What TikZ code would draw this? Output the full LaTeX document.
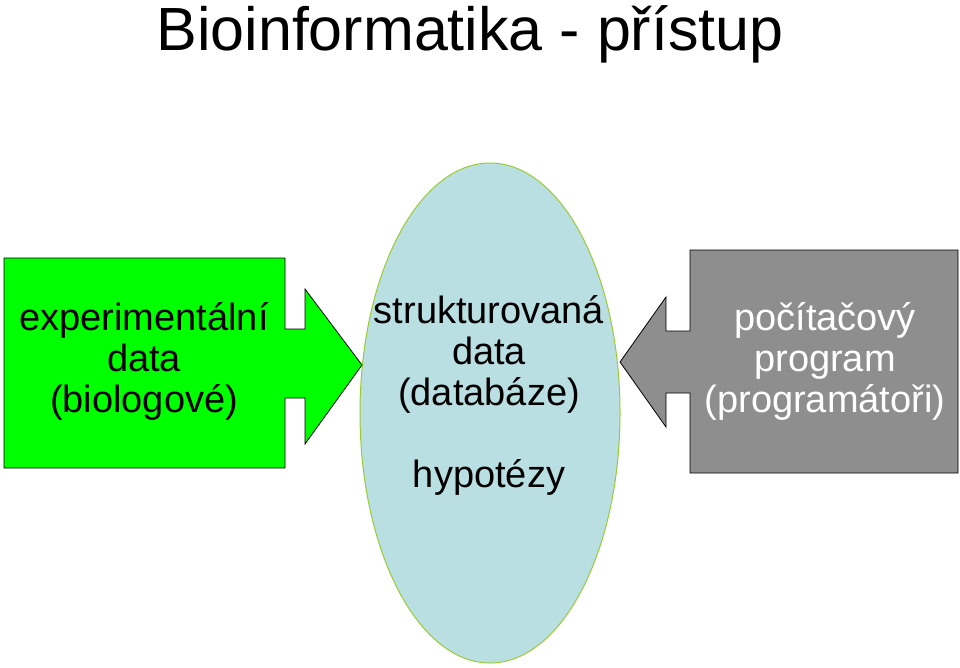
\documentclass[tikz,border=0pt]{standalone}
\usepackage{fontspec}
\setmainfont{Liberation Sans}
\definecolor{ExperimentGreen}{HTML}{00FF00}
\definecolor{ProgramGray}{HTML}{8E8E8E}
\definecolor{BaseBlue}{HTML}{BADFE3}
\definecolor{BaseRim}{HTML}{99CC33}

\begin{document}
\begin{tikzpicture}[x=1pt,y=-1pt,
    label text/.style={align=center,font=\fontsize{38}{41}\selectfont}]
  \useasboundingbox (0,0) rectangle (960,667);
  \node[anchor=base,font=\fontsize{61}{61}\selectfont] (title) at (470,50) {Bioinformatika - přístup};
  % databaze uprostred
  \fill[BaseBlue] (490,413) ellipse (130 and 250);
  \draw[BaseRim,line width=1pt] (490,413) ellipse (130 and 250);
  % experimentalni data
  \filldraw[fill=ExperimentGreen,draw=black,line width=0.8pt]
    (4,258) -- (285,258) -- (285,329) -- (305,329) -- (305,289) -- (362,365)
    -- (305,444) -- (305,398) -- (285,398) -- (285,468) -- (4,468) -- cycle;
  % pocitacovy program
  \filldraw[fill=ProgramGray,draw=black,line width=0.8pt]
    (958,250) -- (690,250) -- (690,331) -- (666,331) -- (666,297) -- (620,362)
    -- (666,427) -- (666,393) -- (690,393) -- (690,473) -- (958,473) -- cycle;
  \node[label text] (experiment) at (144,361) {experimentální\\data\\(biologové)};
  \node[label text] (base) at (489,395) {strukturovaná\\data\\(databáze)\\[41pt]hypotézy};
  \node[label text,white] (program) at (825,361) {počítačový\\program\\(programátoři)};
\end{tikzpicture}
\end{document}
